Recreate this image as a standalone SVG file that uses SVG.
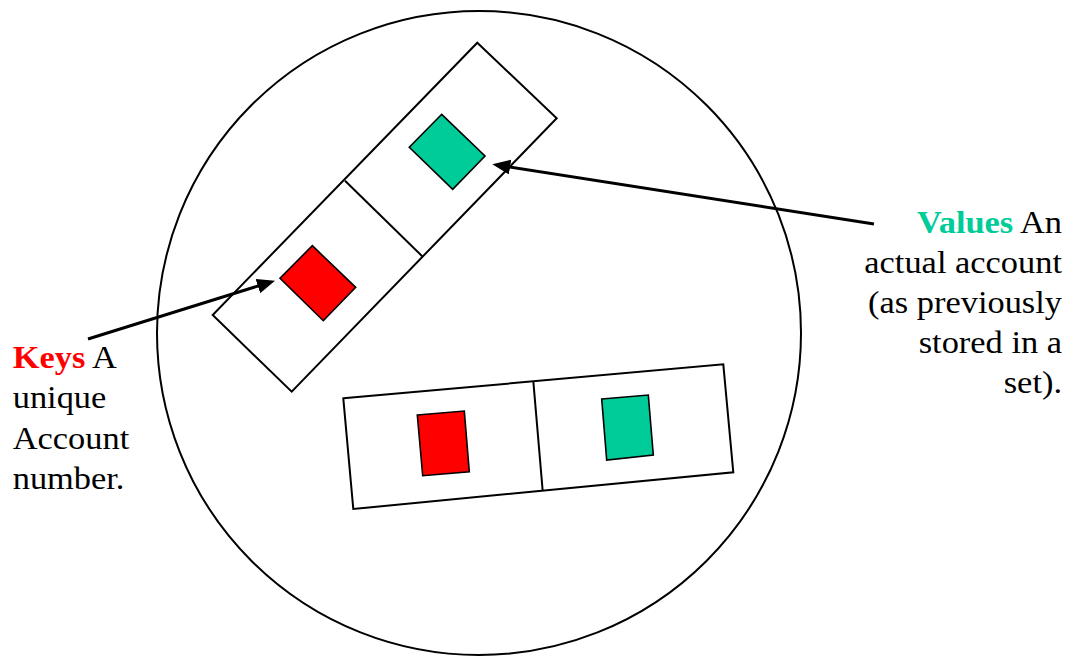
<svg xmlns="http://www.w3.org/2000/svg" width="1071" height="657" viewBox="0 0 1071 657">
<style>
.frame{fill:#fff;stroke:#000;stroke-width:2}
.div{fill:none;stroke:#000;stroke-width:2}
.key{fill:#FF0000;stroke:#000;stroke-width:1.6}
.val{fill:#00CC99;stroke:#000;stroke-width:1.6}
.conn{fill:none;stroke:#000;stroke-width:3}
.lbl{font-family:'Liberation Serif','Times New Roman',serif;font-size:31px;fill:#000}
</style>
<defs>
<marker id="ah" markerUnits="userSpaceOnUse" markerWidth="20" markerHeight="16" refX="10" refY="7.5" orient="auto">
<path d="M0,0 L18,7.5 L0,15 z" fill="#000"/>
</marker>
</defs>
<rect width="1071" height="657" fill="#fff"/>
<g id="map">
<circle cx="479" cy="333" r="322" fill="none" stroke="#000" stroke-width="2"/>
</g>
<g id="entry1">
<polygon class="frame" points="477.3,42.7 556.7,118.3 291.7,391.7 212.7,315"/>
<line class="div" x1="345" y1="180.7" x2="422.7" y2="256.7"/>
<polygon class="val" points="441.7,114.3 485,156 452.7,189.3 409.3,147.3"/>
<polygon class="key" points="312.3,245.7 355.7,287.3 323.3,320.7 280,278.3"/>
</g>
<g id="entry2">
<polygon class="frame" points="343.3,398.3 723.3,364.3 733.3,472.3 353.3,509"/>
<line class="div" x1="533.3" y1="381" x2="542.7" y2="491"/>
<polygon class="key" points="417.3,415 464.3,411 469.3,471.7 422.7,475.7"/>
<polygon class="val" points="601.7,399 648.3,395 653.3,455 606.7,460"/>
</g>
<g id="connectors">
<line class="conn" x1="88" y1="339" x2="267.4" y2="283.1" marker-end="url(#ah)"/>
<line class="conn" x1="874" y1="224" x2="500.2" y2="165.5" marker-end="url(#ah)"/>
</g>
<g id="keys-label" class="lbl" transform="translate(12.7,0) scale(1.11,1)">
<text x="0" y="368"><tspan font-weight="bold" fill="#FF0000">Keys</tspan> A</text>
<text x="0" y="408">unique</text>
<text x="0" y="449">Account</text>
<text x="0" y="489">number.</text>
</g>
<g id="values-label" class="lbl" transform="translate(1062,0) scale(1.11,1)" text-anchor="end">
<text x="0" y="233"><tspan font-weight="bold" fill="#00CC99">Values</tspan> An</text>
<text x="0" y="273">actual account</text>
<text x="0" y="313">(as previously</text>
<text x="0" y="353">stored in a</text>
<text x="0" y="393">set).</text>
</g>
</svg>
